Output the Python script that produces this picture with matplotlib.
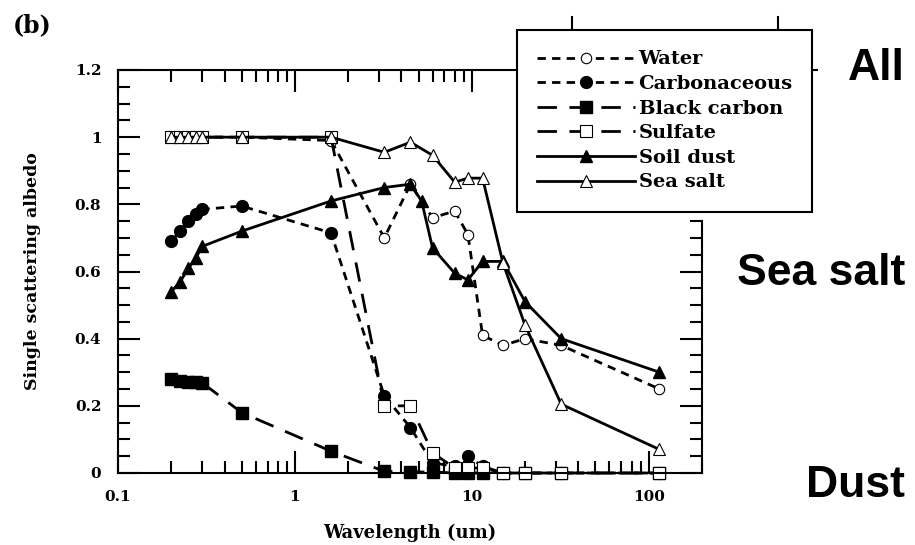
import matplotlib
matplotlib.use("Agg")
import matplotlib.pyplot as plt
from matplotlib.lines import Line2D
from matplotlib.ticker import FixedLocator, FuncFormatter, MultipleLocator, LogLocator

plt.rcParams['lines.scale_dashes'] = False

# wavelengths (um) used by most aerosol types
wl = [0.2, 0.225, 0.25, 0.275, 0.3, 0.5, 1.6, 3.2, 4.5, 6.0, 8.0, 9.5, 11.5, 15.0, 20.0, 32.0, 115.0]
water = [1.0, 1.0, 1.0, 1.0, 1.0, 1.0, 0.99, 0.70, 0.86, 0.76, 0.78, 0.71, 0.41, 0.38, 0.40, 0.38, 0.25]
carbonaceous = [0.69, 0.72, 0.75, 0.77, 0.785, 0.795, 0.715, 0.23, 0.135, 0.03, 0.02, 0.05, 0.02, 0.0, 0.0, 0.0, 0.0]
black_carbon = [0.28, 0.275, 0.27, 0.27, 0.268, 0.18, 0.065, 0.005, 0.003, 0.003, 0.0, 0.0, 0.0, 0.0, 0.0, 0.0, 0.0]
sulfate = [1.0, 1.0, 1.0, 1.0, 1.0, 1.0, 1.0, 0.20, 0.20, 0.06, 0.015, 0.015, 0.015, 0.0, 0.0, 0.0, 0.0]
sea_salt = [1.0, 1.0, 1.0, 1.0, 1.0, 1.0, 1.0, 0.955, 0.985, 0.946, 0.866, 0.878, 0.878, 0.625, 0.44, 0.205, 0.07]

# soil dust has an extra point near 5 um
wl_dust = [0.2, 0.225, 0.25, 0.275, 0.3, 0.5, 1.6, 3.2, 4.5, 5.2, 6.0, 8.0, 9.5, 11.5, 15.0, 20.0, 32.0, 115.0]
soil_dust = [0.54, 0.57, 0.61, 0.64, 0.675, 0.72, 0.81, 0.85, 0.86, 0.81, 0.67, 0.595, 0.575, 0.63, 0.63, 0.51, 0.40, 0.30]

x_ticks = [0.1, 1, 10, 100]
y_ticks = [0, 0.2, 0.4, 0.6, 0.8, 1.0, 1.2]

serif = 'DejaVu Serif'
short_dash = (0, (6, 4.5))
long_dash = (0, (14, 9))

fig = plt.figure(figsize=(9.15, 5.45), dpi=100)
ax = fig.add_axes([118 / 915, 1 - 473 / 545, 584 / 915, 403 / 545])

lw = 2.0
ax.plot(wl, water, linestyle=short_dash, color='k', lw=lw, marker='o', ms=7.5,
        mfc='white', mec='k', mew=0.8, label='Water', clip_on=False)
ax.plot(wl, carbonaceous, linestyle=short_dash, color='k', lw=lw, marker='o', ms=8.5,
        mfc='k', mec='k', label='Carbonaceous', clip_on=False)
ax.plot(wl, black_carbon, linestyle=long_dash, color='k', lw=lw, marker='s', ms=8,
        mfc='k', mec='k', label='Black carbon', clip_on=False)
ax.plot(wl, sulfate, linestyle=long_dash, color='k', lw=lw, marker='s', ms=8,
        mfc='white', mec='k', mew=0.8, label='Sulfate', clip_on=False)
ax.plot(wl_dust, soil_dust, linestyle='-', color='k', lw=lw, marker='^', ms=8,
        mfc='k', mec='k', label='Soil dust', clip_on=False)
ax.plot(wl, sea_salt, linestyle='-', color='k', lw=lw, marker='^', ms=8,
        mfc='white', mec='k', mew=0.8, label='Sea salt', clip_on=False)

ax.set_xscale('log')
ax.set_xlim(0.1, 200)
ax.set_ylim(0, 1.2)

ax.xaxis.set_major_locator(FixedLocator(x_ticks))
ax.xaxis.set_minor_locator(LogLocator(base=10, subs=range(2, 10)))
ax.xaxis.set_major_formatter(FuncFormatter(lambda v, p: '%g' % v))
ax.xaxis.set_minor_formatter(FuncFormatter(lambda v, p: ''))
ax.yaxis.set_major_locator(FixedLocator(y_ticks))
ax.yaxis.set_minor_locator(MultipleLocator(0.05))
ax.yaxis.set_major_formatter(FuncFormatter(lambda v, p: '%g' % v))

ax.tick_params(which='both', direction='in', top=True, right=True, width=1.5, color='k')
ax.tick_params(which='major', length=16, pad=12, labelsize=11)
ax.tick_params(which='minor', length=8.5)
for lab in ax.get_xticklabels() + ax.get_yticklabels():
    lab.set_fontfamily(serif)
    lab.set_fontweight('bold')

for sp in ax.spines.values():
    sp.set_linewidth(1.5)
ax.spines['right'].set_bounds(0, 0.75)

ax.set_xlabel('Wavelength (um)', fontfamily=serif, fontweight='bold', fontsize=13, va='center')
ax.xaxis.set_label_coords(0.5, -0.149)
ax.set_ylabel('Single scattering albedo', fontfamily=serif, fontweight='bold', fontsize=12.5,
              va='center', ha='center')
ax.yaxis.set_label_coords(-0.147, 0.5)

handles, labels = ax.get_legend_handles_labels()
leg = fig.legend(handles, labels, loc='upper left',
                 bbox_to_anchor=(517 / 915, 1 - 208 / 545, 295 / 915, 178 / 545),
                 mode='expand', borderaxespad=0, borderpad=1.05, labelspacing=0.34,
                 handlelength=5.0, handletextpad=0.2, fancybox=False, framealpha=1,
                 prop={'family': serif, 'weight': 'bold', 'size': 14})
leg.get_frame().set_edgecolor('k')
leg.get_frame().set_linewidth(1.5)

fig.text(32 / 915, 1 - 25 / 545, '(b)', fontfamily=serif, fontweight='bold', fontsize=17,
         ha='center', va='center')

# leftover tick marks from the panel above
for xp in (572, 778):
    fig.add_artist(Line2D([xp / 915, xp / 915], [1 - 17 / 545, 1 - 30 / 545],
                          color='k', lw=1.5, transform=fig.transFigure))
fig.add_artist(Line2D([812 / 915, 817 / 915], [1 - 70 / 545, 1 - 70 / 545],
                      color='k', lw=1.5, transform=fig.transFigure))

side_font = dict(fontfamily='Liberation Sans', fontweight='bold', fontsize=32,
                 ha='right', va='baseline')
fig.text(905 / 915, 1 - 80 / 545, 'All', **side_font)
fig.text(905 / 915, 1 - 285 / 545, 'Sea salt', **side_font)
fig.text(905 / 915, 1 - 497 / 545, 'Dust', **side_font)

fig.savefig('out.png', dpi=100)
